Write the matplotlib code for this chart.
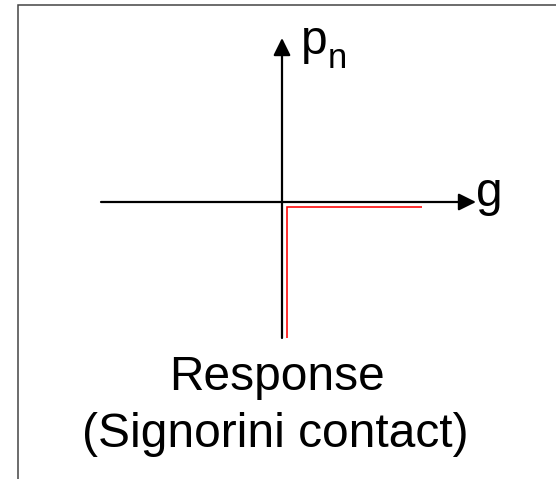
import matplotlib
matplotlib.use("Agg")
import matplotlib.pyplot as plt
from matplotlib.patches import Rectangle, ArrowStyle
import matplotlib.transforms as mtransforms

plt.rcParams['font.family'] = ['Liberation Sans', 'DejaVu Sans']

# ---- data (diagram units; origin of the g / p_n axes at 0,0) ----
g_axis = [-1.81, 1.94]          # extent of the g axis (arrow tip at the right end)
pn_axis = [-1.36, 1.64]         # extent of the p_n axis (arrow tip at the top end)
response_g = [0.0, 0.0, 1.355]  # Signorini response: vertical branch at g=0, then p_n=0 for g>0
response_pn = [-1.31, 0.0, 0.0]
x_label = "g"
y_label_main = "p"
y_label_sub = "n"
caption_lines = ["Response", "(Signorini contact)"]

W, H = 556, 479
fig = plt.figure(figsize=(W / 100, H / 100), dpi=100)
ax = fig.add_axes([0, 0, 1, 1])
ox, oy = 282, 202  # pixel location of origin
ax.set_xlim(-ox / 100, (W - ox) / 100)
ax.set_ylim(-(H - oy) / 100, oy / 100)
ax.axis('off')

def px(x, y):
    return x / W, 1 - y / H

# border frame (only left and top visible)
fig.patches.append(Rectangle(px(18.3, 600), 700 / W, (600 - 5.3) / H,
                             transform=fig.transFigure, fill=False,
                             edgecolor='#444444', linewidth=1.1))

head = ArrowStyle('-|>', head_length=10.5, head_width=5.2)
# g axis
ax.annotate("", xy=(g_axis[1], 0), xytext=(g_axis[0], 0),
            arrowprops=dict(arrowstyle=head, color='black', lw=1.6,
                            shrinkA=0, shrinkB=0, mutation_scale=1))
# p_n axis
ax.annotate("", xy=(0, pn_axis[1]), xytext=(0, pn_axis[0]),
            arrowprops=dict(arrowstyle=head, color='black', lw=1.6,
                            shrinkA=0, shrinkB=0, mutation_scale=1))

# response curve, drawn slightly offset from the axes so it stays visible
off = mtransforms.offset_copy(ax.transData, fig=fig, x=4.5 * 0.72, y=-4.7 * 0.72, units='points')
ax.plot(response_g, response_pn, color='#ff0000', lw=1.15, transform=off,
        solid_joinstyle='miter', solid_capstyle='butt')

# labels
fig.text(*px(475.5, 206), x_label, fontsize=34.5, ha='left', va='baseline')
fig.text(*px(301, 54.5), y_label_main, fontsize=34.5, ha='left', va='baseline')
fig.text(*px(328, 68), y_label_sub, fontsize=25, ha='left', va='baseline')
fig.text(*px(277, 390), caption_lines[0], fontsize=34.5, ha='center', va='baseline')
fig.text(*px(275, 447), caption_lines[1], fontsize=34.5, ha='center', va='baseline')

fig.savefig("out.png", dpi=100)
